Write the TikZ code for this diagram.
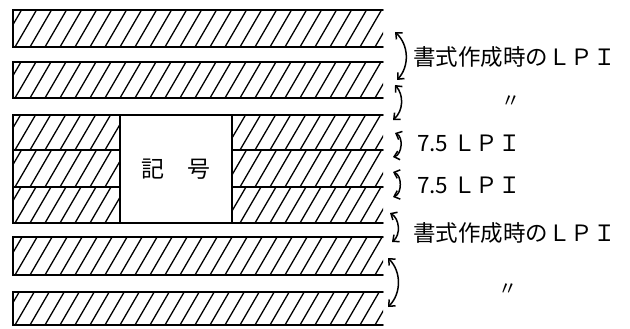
\documentclass[tikz,border=0pt]{standalone}
\usepackage{fontspec}
\setmainfont{Noto Sans CJK JP}
\usetikzlibrary{arrows.meta}
\tikzstyle{edge} = [line width=1.8pt, line cap=round]
\tikzstyle{hatch} = [line width=1.3pt]
\tikzstyle{symbolbox} = [draw, line width=1.8pt, fill=white, minimum width=112pt, minimum height=108pt, inner sep=0pt, font={\fontsize{23}{23}\selectfont}]
\tikzstyle{pitch} = [{Straight Barb[length=5pt,width=9pt]}-{Straight Barb[length=5pt,width=9pt]}, line width=1.5pt]
\tikzstyle{lbl} = [anchor=west, inner sep=0pt, font={\fontsize{22.5}{22.5}\selectfont}]
\tikzstyle{ditto} = [inner sep=0pt, font={\fontsize{19}{19}\selectfont}]

\begin{document}
\begin{tikzpicture}[x=1pt,y=-1pt]
    \useasboundingbox (0,0) rectangle (630,329);
    % plain lines
    \foreach \ya/\yb in {10/47, 62/98, 237/275, 292/325} {
      \begin{scope}
        \clip (13,\ya) rectangle (383,\yb);
        \foreach \x in {-30,-15,...,400} \draw[hatch] (\x,\yb) -- ++(25,-43);
      \end{scope}
      \draw[edge] (383,\ya) -- (13,\ya) -- (13,\yb) -- (383,\yb);
    }
    % lines beside the symbol
    \begin{scope}
      \clip (13,115) rectangle (383,223);
      \foreach \x in {-30,-15,...,400} {
        \draw[hatch] (\x,150) -- ++(20.5,-35);
        \draw[hatch] (\x,187) -- ++(21.5,-37);
        \draw[hatch] (\x,223) -- ++(21,-36);
      }
    \end{scope}
    \draw[edge] (383,115) -- (13,115) -- (13,223) -- (383,223);
    \draw[edge] (13,150) -- (383,150);
    \draw[edge] (13,187) -- (383,187);
    \node[symbolbox](kigou) at (176,169){記　号};
    % pitch arrows
    \coordinate (p1a) at (395,32);  \coordinate (p1b) at (397,80);
    \coordinate (p2a) at (395,85);  \coordinate (p2b) at (393,120);
    \coordinate (p3a) at (395,133); \coordinate (p3b) at (393,157);
    \coordinate (p4a) at (393,172); \coordinate (p4b) at (393,197);
    \coordinate (p5a) at (390,213); \coordinate (p5b) at (392,242);
    \coordinate (p6a) at (388,258); \coordinate (p6b) at (388,307);
    \draw[pitch] (p1a) to[bend left=45] (p1b);
    \draw[pitch] (p2a) to[bend left=45] (p2b);
    \draw[pitch] (p3a) to[bend left=70] (p3b);
    \draw[pitch] (p4a) to[bend left=70] (p4b);
    \draw[pitch] (p5a) to[bend left=55] (p5b);
    \draw[pitch] (p6a) to[bend left=45] (p6b);
    \node[lbl](form1) at (413,57){書式作成時のＬＰＩ};
    \node[ditto](same1) at (511,102){〃};
    \node[lbl](fix1) at (417,143){7.5 ＬＰＩ};
    \node[lbl](fix2) at (417,185){7.5 ＬＰＩ};
    \node[lbl](form2) at (413,233){書式作成時のＬＰＩ};
    \node[ditto](same2) at (508,290){〃};
  \end{tikzpicture}
\end{document}
